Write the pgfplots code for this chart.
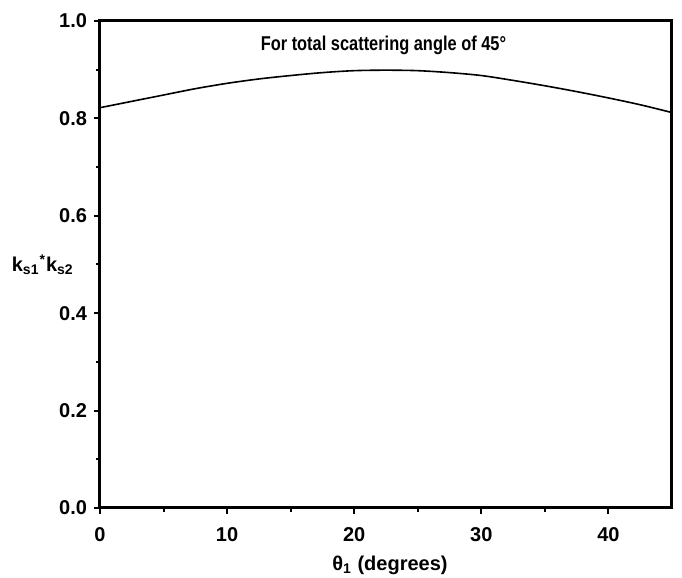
\documentclass[border=0pt]{standalone}
\usepackage{pgfplots}
\pgfplotsset{compat=1.18}
\usepackage{fontspec}
\usepackage{graphicx}
\setmainfont{Liberation Sans}
\begin{document}
\begin{tikzpicture}
\path[use as bounding box] (-50pt,-35pt) rectangle (291pt,254pt);
\begin{axis}[
  scale only axis,
  width=286pt, height=243.5pt,
  xmin=0, xmax=45, ymin=0, ymax=1.0,
  axis line style={line width=1.5pt},
  xtick pos=bottom, ytick pos=left,
  xtick={0,10,20,30,40},
  minor xtick={5,15,25,35},
  ytick={0,0.2,0.4,0.6,0.8,1.0},
  minor ytick={0.1,0.3,0.5,0.7,0.9},
  tick align=outside,
  major tick length=3pt, minor tick length=2pt,
  tick style={line width=1pt, black},
  yticklabel style={/pgf/number format/fixed, /pgf/number format/fixed zerofill, /pgf/number format/precision=1},
  /pgf/number format/assume math mode=true,
  tick label style={font=\fontsize{10}{12}\selectfont\bfseries},
  xticklabel style={yshift=-3pt},
  clip=false,
]
\addplot[black, line width=0.8pt, smooth] coordinates {
(0,0.822) (2.5,0.835) (5,0.848) (7.5,0.861) (10,0.872) (12.5,0.881) (15,0.888)
(17.5,0.894) (20,0.898) (22.5,0.899) (25,0.898) (27.5,0.894) (30,0.888)
(32.5,0.878) (35,0.867) (37.5,0.855) (40,0.842) (42.5,0.828) (45,0.812)
};
\node[font=\fontsize{10}{12}\selectfont\bfseries] at (axis cs:22.3,0.95) {\scalebox{0.82}[1]{For total scattering angle of 45°}};
\node[font=\fontsize{10}{12}\selectfont\bfseries] at (rel axis cs:0.507,-0.117) {θ\textsubscript{1} (degrees)};
\node[font=\fontsize{10}{12}\selectfont\bfseries] at (rel axis cs:-0.1,0.5) {k\textsubscript{s1}\textsuperscript{*}k\textsubscript{s2}};
\end{axis}
\end{tikzpicture}
\end{document}
